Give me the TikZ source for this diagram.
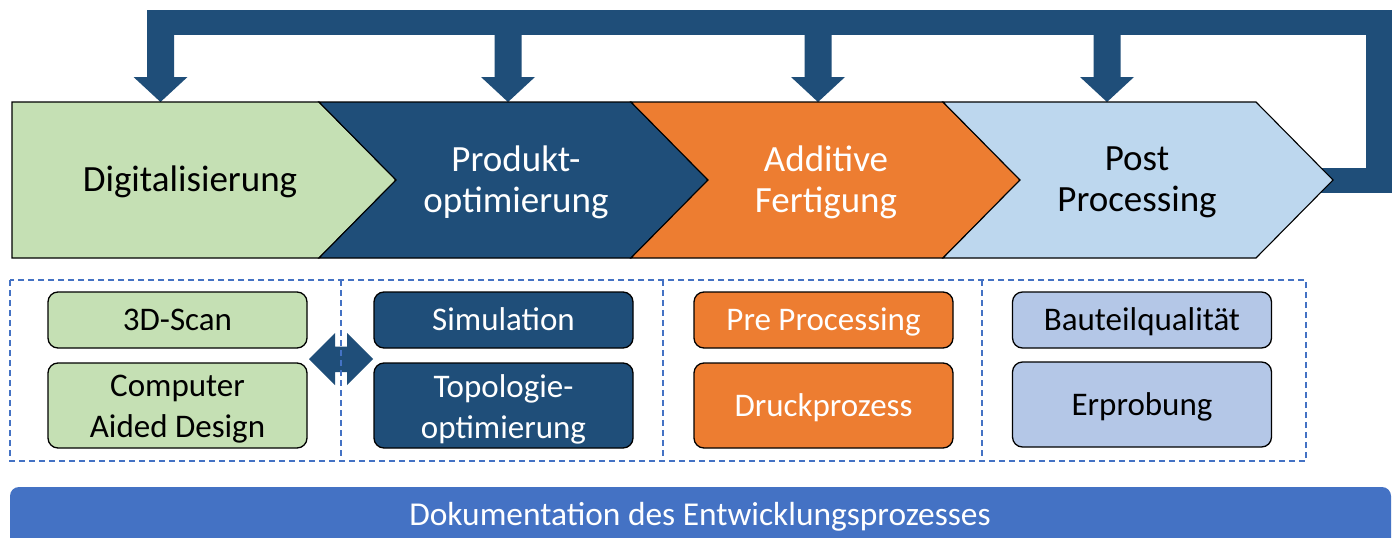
\documentclass[tikz,border=0pt]{standalone}
\usepackage{fontspec}
\setmainfont{Carlito}
\definecolor{dkblue}{HTML}{1F4E79}
\definecolor{lgreen}{HTML}{C5E0B4}
\definecolor{orng}{HTML}{ED7D31}
\definecolor{chevblue}{HTML}{BDD7EE}
\definecolor{boxblue}{HTML}{B4C7E7}
\definecolor{barblue}{HTML}{4472C4}
\definecolor{dashblue}{HTML}{4472C4}
\tikzset{
  chev/.style={draw=black, line width=1.1pt, line join=miter},
  chevtext/.style={font=\fontsize{37}{41}\selectfont, align=center, inner sep=0pt},
  smallbox/.style={draw=black, line width=1.3pt, rounded corners=10pt, minimum width=259pt, inner sep=0pt, align=center, font=\fontsize{33}{41}\selectfont},
  oneline/.style={text height=21.3pt, text depth=0pt},
  framedash/.style={draw=dashblue, line width=1.3pt, dash pattern=on 6pt off 4pt},
}
\begin{document}
\begin{tikzpicture}[x=1pt,y=-1pt]
\clip (0,0) rectangle (1392,538);
\fill[white] (0,0) rectangle (1392,538);
% feedback bracket
\fill[dkblue] (147,10) rectangle (1392,35);
\fill[dkblue] (1366,10) rectangle (1392,193);
\fill[dkblue] (1290,168) rectangle (1392,193);
\foreach \c/\n in {160.5/a1,508/a2,818/a3,1107/a4}{
  \coordinate (\n) at (\c,102);
  \fill[dkblue] ({\c-13.5},30) -- ({\c+13.5},30) -- ({\c+13.5},77) -- ({\c+27},77) -- (\n) -- ({\c-27},77) -- ({\c-13.5},77) -- cycle;
}
% chevrons
\draw[chev, fill=lgreen] (12,102) -- (319,102) -- (396,180) -- (319,258) -- (12,258) -- cycle;
\draw[chev, fill=dkblue] (319,102) -- (631,102) -- (708,180) -- (631,258) -- (319,258) -- (396,180) -- cycle;
\draw[chev, fill=orng] (631,102) -- (943,102) -- (1020,180) -- (943,258) -- (631,258) -- (708,180) -- cycle;
\draw[chev, fill=chevblue] (943,102) -- (1256,102) -- (1333,180) -- (1256,258) -- (943,258) -- (1020,180) -- cycle;
\node[chevtext, text=black] (dig) at (190,182) {Digitalisierung};
\node[chevtext, text=white] (prod) at (516,182) {Produkt-\\optimierung};
\node[chevtext, text=white] (add) at (826,182) {Additive\\Fertigung};
\node[chevtext, text=black] (post) at (1137,182) {Post\\Processing};
% double arrow
\fill[dkblue] (309,359) -- (335,333) -- (335,346.5) -- (347,346.5) -- (347,333) -- (373,359) -- (347,385) -- (347,372) -- (335,372) -- (335,385) -- cycle;
% dashed frame
\draw[framedash] (10,280) rectangle (1306,461);
\foreach \x in {341,663,982} \draw[framedash] (\x,280) -- (\x,461);
% boxes
\node[smallbox, oneline, fill=lgreen, minimum height=56pt] (scan) at (177.5,320) {3D-Scan};
\node[smallbox, fill=lgreen, minimum height=85pt] (cad) at (177.5,405.5) {};
\node[font=\fontsize{33}{41}\selectfont, align=center, inner sep=0pt] (cadt) at (177.5,409) {Computer\\Aided Design};
\node[smallbox, oneline, fill=dkblue, text=white, minimum height=56pt] (sim) at (503.5,320) {Simulation};
\node[smallbox, fill=dkblue, minimum height=85pt] (topo) at (503.5,405.5) {};
\node[font=\fontsize{33}{41}\selectfont, align=center, inner sep=0pt, text=white] (topot) at (503.5,409) {Topologie-\\optimierung};
\node[smallbox, oneline, fill=orng, text=white, minimum height=56pt] (pre) at (823.5,320) {Pre Processing};
\node[smallbox, oneline, fill=orng, text=white, minimum height=85pt] (druck) at (823.5,405.5) {Druckprozess};
\node[smallbox, oneline, fill=boxblue, minimum height=56pt] (bau) at (1142,320) {Bauteilqualität};
\node[smallbox, oneline, fill=boxblue, minimum height=85pt] (erp) at (1142,404.5) {Erprobung};
% documentation bar
\fill[barblue, rounded corners=9pt] (10,487) rectangle (1391,570);
\node[font=\fontsize{33.4}{40}\selectfont, text=white, anchor=base, inner sep=0pt] (doc) at (700,525) {Dokumentation des Entwicklungsprozesses};
\end{tikzpicture}
\end{document}
